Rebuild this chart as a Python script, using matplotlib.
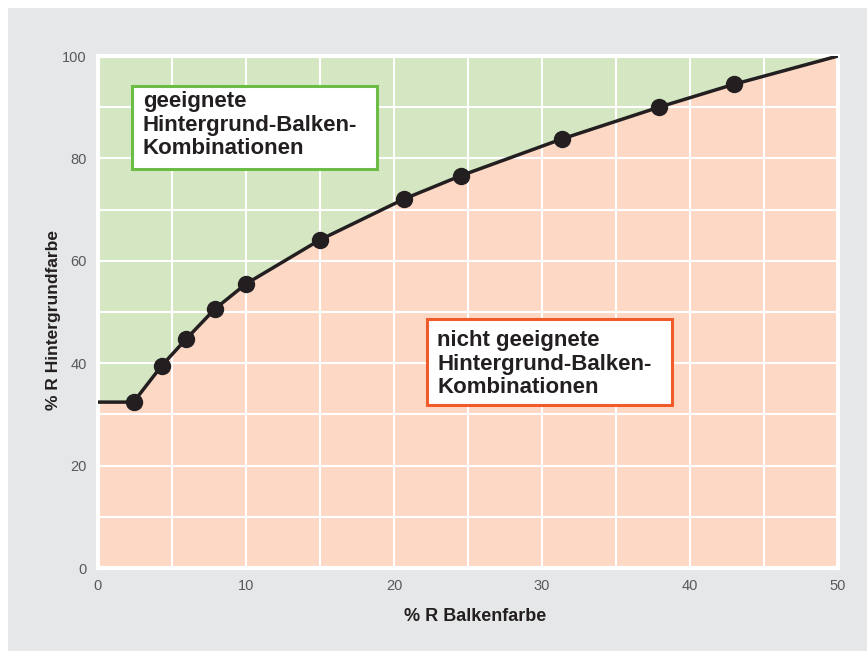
import matplotlib
matplotlib.use("Agg")
import matplotlib.pyplot as plt
from matplotlib.patches import Rectangle

plt.rcParams['font.family'] = ['Liberation Sans', 'DejaVu Sans']

# limit curve: % R Balkenfarbe vs % R Hintergrundfarbe
bar_pct = [0, 2.4, 4.3, 5.95, 7.9, 10.0, 15.0, 20.7, 24.5, 31.35, 37.9, 43.0, 50]
bg_pct = [32.4, 32.4, 39.5, 44.7, 50.6, 55.5, 64.1, 72.1, 76.6, 83.8, 90.0, 94.5, 100]
# measured points (markers)
pts_bar = [2.4, 4.3, 5.95, 7.9, 10.0, 15.0, 20.7, 24.5, 31.35, 37.9, 43.0]
pts_bg = [32.4, 39.5, 44.7, 50.6, 55.5, 64.1, 72.1, 76.6, 83.8, 90.0, 94.5]

x_ticks = [0, 10, 20, 30, 40, 50]
y_ticks = [0, 20, 40, 60, 80, 100]

label_good = "geeignete\nHintergrund-Balken-\nKombinationen"
label_bad = "nicht geeignete\nHintergrund-Balken-\nKombinationen"

gray = '#e6e7e8'
green_fill = '#d4e7c2'
peach_fill = '#fdd8c5'
green_edge = '#6cbd45'
orange_edge = '#f15a29'
ink = '#231f20'

fig = plt.figure(figsize=(8.67, 6.53), dpi=100, facecolor='white')
fig.patches.append(Rectangle((8 / 867, 2 / 653), 1 - 8 / 867, 643 / 653,
                             transform=fig.transFigure, facecolor=gray,
                             edgecolor='none', zorder=-10))

ax = fig.add_axes([98 / 867, 85 / 653, 740 / 867, 512 / 653])
ax.set_xlim(0, 50)
ax.set_ylim(0, 100)

ax.fill_between(bar_pct, bg_pct, 100, color=green_fill, lw=0, zorder=1)
ax.fill_between(bar_pct, 0, bg_pct, color=peach_fill, lw=0, zorder=1)

# white grid
ax.set_xticks(x_ticks)
ax.set_yticks(y_ticks)
ax.set_xticks(range(5, 51, 10), minor=True)
ax.set_yticks(range(10, 101, 20), minor=True)
ax.grid(which='both', color='white', lw=1.5, zorder=2)
ax.set_axisbelow(False)

ax.plot(bar_pct, bg_pct, color=ink, lw=2.5, zorder=3, solid_capstyle='butt')
ax.plot(pts_bar, pts_bg, 'o', color=ink, ms=11.5, zorder=4)

ax.tick_params(which='both', length=0)
ax.tick_params(axis='both', labelsize=10.5, labelcolor='#58595b', pad=8)

for s in ax.spines.values():
    s.set_color('white')
    s.set_linewidth(3)

ax.set_xlabel('% R Balkenfarbe', fontsize=13, fontweight='bold', color=ink)
ax.set_ylabel('% R Hintergrundfarbe', fontsize=12.5, fontweight='bold', color=ink)
ax.xaxis.set_label_coords(0.51, -0.079)
ax.yaxis.set_label_coords(-0.05, 0.484)

# annotation boxes (va='baseline' anchors the last line)
ax.add_patch(Rectangle((0.046, 0.779), 0.331, 0.162, transform=ax.transAxes,
                       facecolor='white', edgecolor=green_edge, lw=2.2, zorder=5))
ax.text(0.0605, 0.8086, label_good, transform=ax.transAxes, ha='left', va='baseline',
        fontsize=16, fontweight='bold', color=ink, linespacing=1.15, zorder=6)

ax.add_patch(Rectangle((0.445, 0.318), 0.331, 0.168, transform=ax.transAxes,
                       facecolor='white', edgecolor=orange_edge, lw=2.2, zorder=5))
ax.text(0.4585, 0.3418, label_bad, transform=ax.transAxes, ha='left', va='baseline',
        fontsize=16, fontweight='bold', color=ink, linespacing=1.15, zorder=6)

fig.savefig('out.png', dpi=100, facecolor=fig.get_facecolor())
